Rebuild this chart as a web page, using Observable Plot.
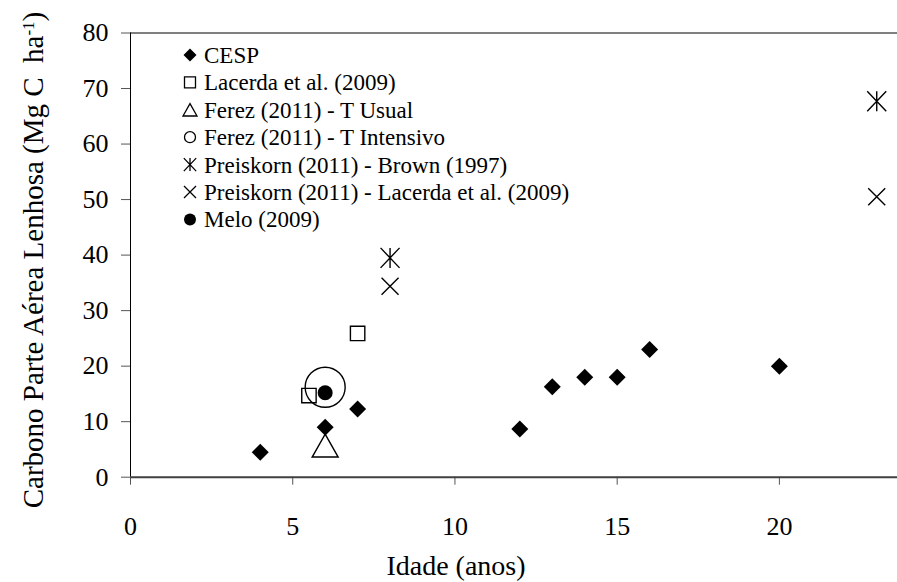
<!DOCTYPE html>
<html><head><meta charset="utf-8">
<script src="https://cdn.jsdelivr.net/npm/d3@7"></script>
<script src="https://cdn.jsdelivr.net/npm/@observablehq/plot@0.6"></script>
<style>body{margin:0;background:#fff} svg{display:block}</style>
</head><body><div id="chart"></div>
<script>
// ---- data ----
const seriesNames = [
  "CESP",
  "Lacerda et al. (2009)",
  "Ferez (2011) - T Usual",
  "Ferez (2011) - T Intensivo",
  "Preiskorn (2011) - Brown (1997)",
  "Preiskorn (2011) - Lacerda et al. (2009)",
  "Melo (2009)"
];
const cespAge = [4, 6, 7, 12, 13, 14, 15, 16, 20];
const cespC = [4.5, 9.0, 12.3, 8.7, 16.3, 18.0, 18.0, 23.0, 20.0];
const lacerdaAge = [5.5, 7];
const lacerdaC = [14.7, 25.9];
const ferezUsualAge = [6];
const ferezUsualC = [5.7];
const ferezIntAge = [6];
const ferezIntC = [16.2];
const brownAge = [8, 23];
const brownC = [39.5, 67.7];
const preiskornLacAge = [8, 23];
const preiskornLacC = [34.4, 50.5];
const meloAge = [6];
const meloC = [15.2];
const xTicks = [0, 5, 10, 15, 20];
const yTicks = [0, 10, 20, 30, 40, 50, 60, 70, 80];
const xDomain = [0, 23.64];
const yDomain = [0, 80];
const xTitle = "Idade (anos)";
const yTitleMain = "Carbono Parte Aérea Lenhosa (Mg C  ha";
const yTitleSup = "-1";
const yTitleEnd = ")";

// ---- symbols (size -> radius r = half extent) ----
function sym(fn) { return { draw(ctx, size) { fn(ctx, Math.sqrt(size / Math.PI)); } }; }
const diamond = sym((c, r) => { c.moveTo(0, -r); c.lineTo(r, 0); c.lineTo(0, r); c.lineTo(-r, 0); c.closePath(); });
const square = sym((c, r) => { c.rect(-r, -r, 2 * r, 2 * r); });
const triangle = sym((c, r) => { const h = r * 23 / 26; c.moveTo(0, -h); c.lineTo(r, h); c.lineTo(-r, h); c.closePath(); });
const circle = sym((c, r) => { c.moveTo(r, 0); c.arc(0, 0, r, 0, 2 * Math.PI); });
const star = sym((c, r) => { const d = r * 0.95; c.moveTo(-d, -r); c.lineTo(d, r); c.moveTo(-d, r); c.lineTo(d, -r); c.moveTo(0, -r); c.lineTo(0, r); });
const cross = sym((c, r) => { c.moveTo(-r, -r); c.lineTo(r, r); c.moveTo(-r, r); c.lineTo(r, -r); });

const rows = (xs, ys) => xs.map((x, i) => ({ x, y: ys[i] }));

const styles = [
  { symbol: diamond, r: 8.5, fill: "#000", stroke: "none", lr: 6.5 },
  { symbol: square, r: 7.2, fill: "none", stroke: "#000", lr: 5.5 },
  { symbol: triangle, r: 13, fill: "none", stroke: "#000", lr: 7 },
  { symbol: circle, r: 20, fill: "none", stroke: "#000", lr: 5.5 },
  { symbol: star, r: 10, fill: "none", stroke: "#000", lr: 6.5 },
  { symbol: cross, r: 8.5, fill: "none", stroke: "#000", lr: 6 },
  { symbol: circle, r: 7.5, fill: "#000", stroke: "none", lr: 6 }
];
const seriesData = [
  rows(cespAge, cespC),
  rows(lacerdaAge, lacerdaC),
  rows(ferezUsualAge, ferezUsualC),
  rows(ferezIntAge, ferezIntC),
  rows(brownAge, brownC),
  rows(preiskornLacAge, preiskornLacC),
  rows(meloAge, meloC)
];
const drawOrder = [2, 1, 3, 4, 5, 0, 6];

const serif = "'Liberation Serif', 'Times New Roman', 'DejaVu Serif', serif";

const plot = Plot.plot({
  width: 897,
  height: 582,
  marginLeft: 130,
  marginRight: 0,
  marginTop: 32.5,
  marginBottom: 105.3,
  style: { fontFamily: serif, fontSize: "26px", color: "#000", background: "#fff", overflow: "visible" },
  x: { domain: xDomain },
  y: { domain: yDomain },
  marks: [
    Plot.axisY(yTicks, { tickSize: 9, tickPadding: 13, label: null, stroke: "#555", fill: "#000", fontSize: 26, fontFamily: serif }),
    Plot.axisX(xTicks, { tickSize: 8, tickPadding: 31, label: null, stroke: "#555", fill: "#000", fontSize: 26, fontFamily: serif }),
    Plot.ruleY([yDomain[1]], { stroke: "#000", strokeWidth: 1 }),
    Plot.ruleX([xDomain[0]], { stroke: "#000", strokeWidth: 1 }),
    Plot.ruleY([yDomain[0]], { stroke: "#404040", strokeWidth: 2 }),
    ...drawOrder.map(k => Plot.dot(seriesData[k], {
      x: "x", y: "y", symbol: styles[k].symbol, r: styles[k].r,
      fill: styles[k].fill, stroke: styles[k].stroke, strokeWidth: 1.4
    }))
  ]
});

const svg = d3.select(plot);
svg.selectAll("text").attr("font-family", serif);
// y title
const yt = svg.append("text")
  .attr("transform", "rotate(-90)")
  .attr("x", -260).attr("y", 43)
  .attr("text-anchor", "middle")
  .attr("font-family", serif).attr("font-size", 29).attr("fill", "#000")
  .style("white-space", "pre");
yt.append("tspan").text(yTitleMain);
yt.append("tspan").attr("baseline-shift", "super").attr("font-size", 17).text(yTitleSup);
yt.append("tspan").text(yTitleEnd);
// x title
svg.append("text")
  .attr("x", 456).attr("y", 575)
  .attr("text-anchor", "middle")
  .attr("font-family", serif).attr("font-size", 28).attr("fill", "#000")
  .text(xTitle);
// legend
const lg = svg.append("g").attr("font-family", serif).attr("font-size", 23).attr("text-anchor", "start");
seriesNames.forEach((name, i) => {
  const y = 55 + i * 27.4;
  const s = styles[i];
  lg.append("path")
    .attr("transform", `translate(190,${y})`)
    .attr("d", d3.symbol(s.symbol, Math.PI * s.lr * s.lr)())
    .attr("fill", s.fill).attr("stroke", s.stroke).attr("stroke-width", 1.3);
  lg.append("text").attr("x", 204).attr("y", y).attr("dy", "0.35em").attr("fill", "#000").text(name);
});

document.getElementById("chart").appendChild(plot);
</script>
</body></html>
